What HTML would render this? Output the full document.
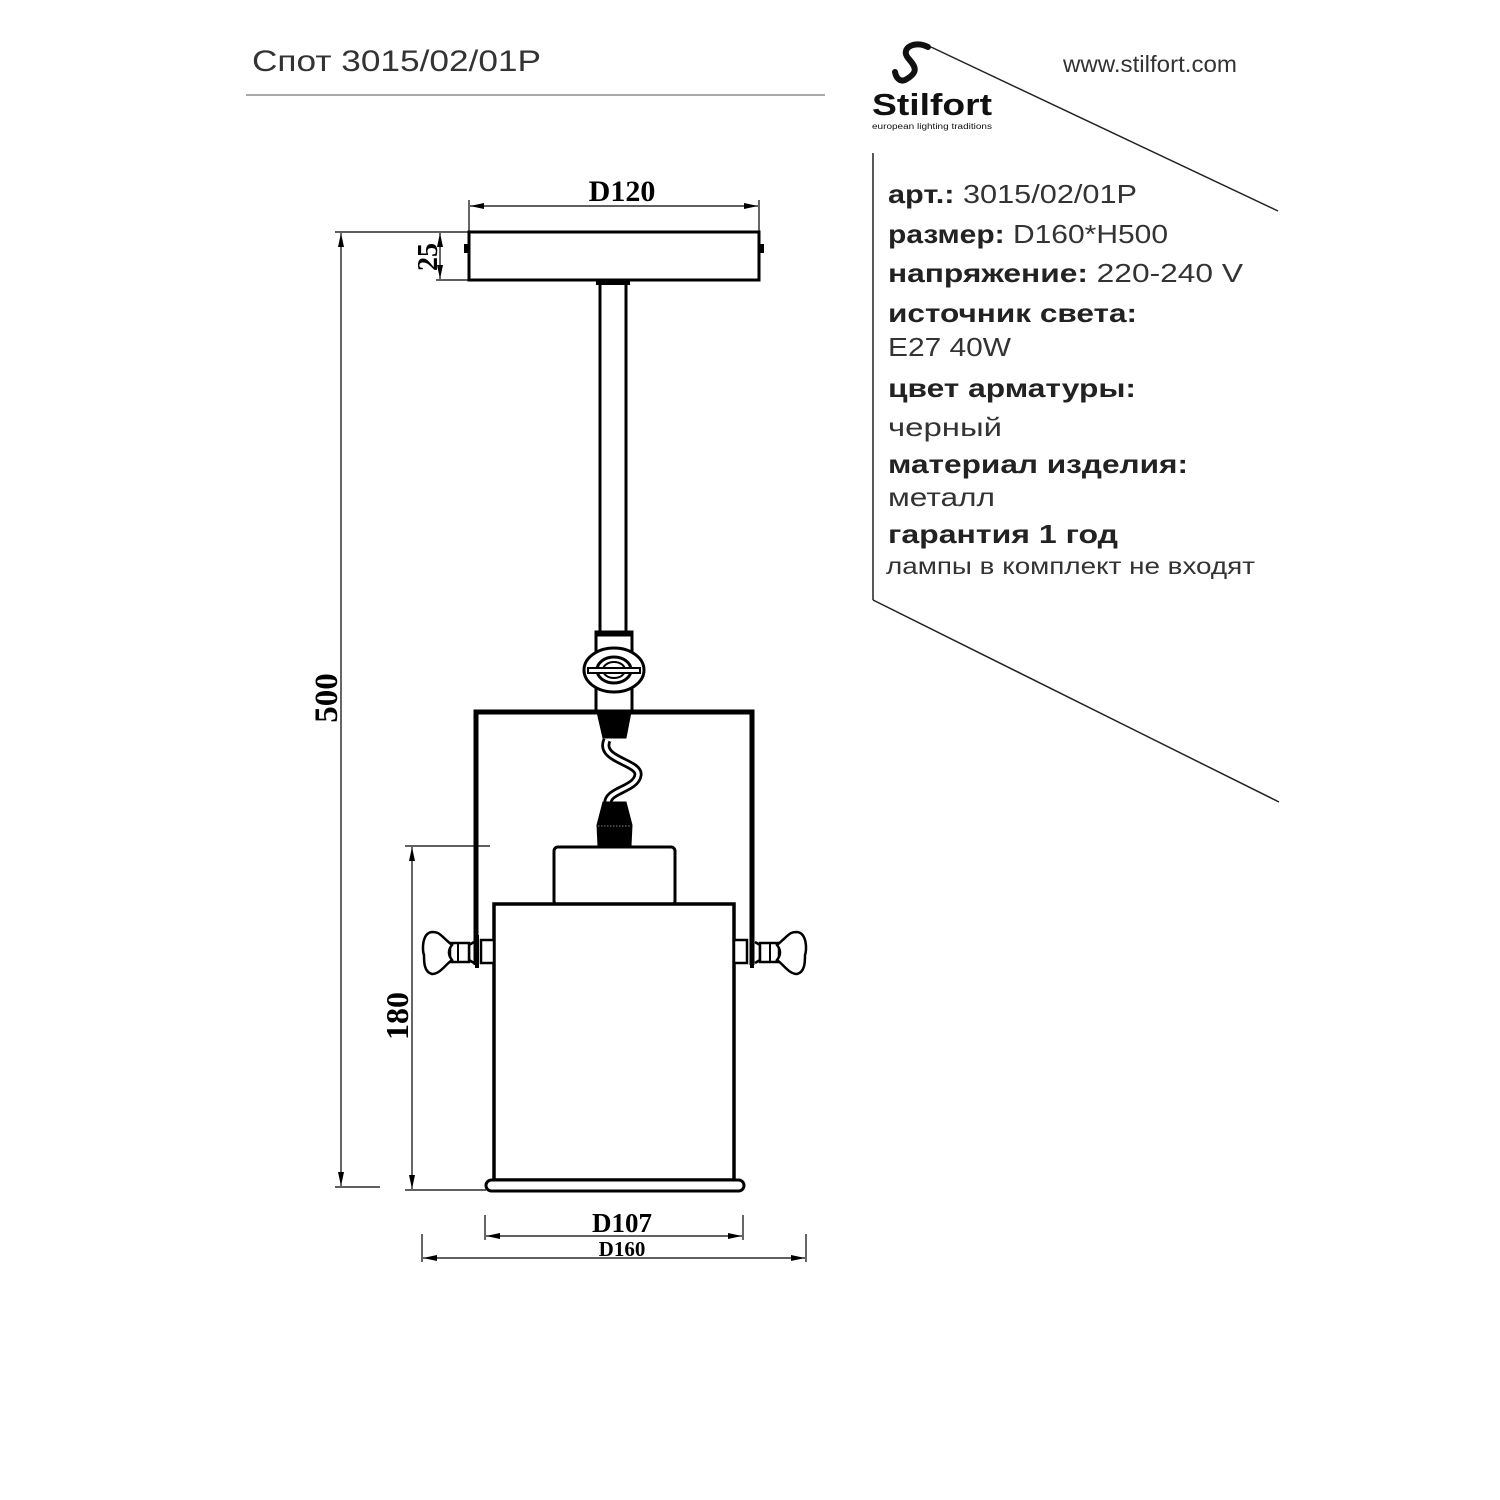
<!DOCTYPE html>
<html><head><meta charset="utf-8"><style>
html,body{margin:0;padding:0;background:#fff;width:1500px;height:1500px;overflow:hidden}
svg{display:block}
.s{font-family:"Liberation Serif",serif;font-weight:bold}
.t{font-family:"Liberation Sans","DejaVu Sans",sans-serif}
</style></head><body>
<svg width="1500" height="1500" viewBox="0 0 1500 1500" xmlns="http://www.w3.org/2000/svg">
<defs>
<marker id="a" markerWidth="14" markerHeight="6" refX="14" refY="3" orient="auto-start-reverse" markerUnits="userSpaceOnUse"><path d="M0,0 L14,3 L0,6 Z" fill="#000"/></marker>
</defs>
<!-- header -->
<text x="252" y="71" class="t" font-size="30" fill="#333" textLength="289" lengthAdjust="spacingAndGlyphs">Спот 3015/02/01P</text>
<line x1="246" y1="95" x2="825" y2="95" stroke="#777" stroke-width="1.2"/>
<path d="M928,47 C915,40 900,48 908,58 C915,66 920,72 905,80 C900,82 896,78 895,72" fill="none" stroke="#111" stroke-width="6" stroke-linecap="round"/>
<text x="872" y="115" class="t" font-size="31" font-weight="bold" fill="#111" textLength="120" lengthAdjust="spacingAndGlyphs">Stilfort</text>
<text x="872" y="129" class="t" font-size="8" fill="#111" textLength="120" lengthAdjust="spacingAndGlyphs">european lighting traditions</text>
<text x="1063" y="72" class="t" font-size="23" fill="#333" textLength="174" lengthAdjust="spacingAndGlyphs">www.stilfort.com</text>
<line x1="931" y1="47" x2="1278" y2="211" stroke="#222" stroke-width="1.5"/>
<line x1="873" y1="153" x2="873" y2="600" stroke="#222" stroke-width="1.5"/>
<line x1="873" y1="600" x2="1279" y2="802" stroke="#222" stroke-width="1.5"/>
<!-- specs -->
<g class="t" font-size="26" fill="#333">
<text x="888" y="203" textLength="249" lengthAdjust="spacingAndGlyphs"><tspan font-weight="900" fill="#222">арт.:</tspan> 3015/02/01P</text>
<text x="888" y="243" textLength="280" lengthAdjust="spacingAndGlyphs"><tspan font-weight="900" fill="#222">размер:</tspan> D160*H500</text>
<text x="888" y="282" textLength="355" lengthAdjust="spacingAndGlyphs"><tspan font-weight="900" fill="#222">напряжение:</tspan> 220-240 V</text>
<text x="888" y="322" font-weight="900" fill="#222" textLength="249" lengthAdjust="spacingAndGlyphs">источник света:</text>
<text x="888" y="356" textLength="123" lengthAdjust="spacingAndGlyphs">E27 40W</text>
<text x="888" y="397" font-weight="900" fill="#222" textLength="248" lengthAdjust="spacingAndGlyphs">цвет арматуры:</text>
<text x="888" y="436" textLength="114" lengthAdjust="spacingAndGlyphs">черный</text>
<text x="888" y="473" font-weight="900" fill="#222" textLength="300" lengthAdjust="spacingAndGlyphs">материал изделия:</text>
<text x="888" y="506" textLength="107" lengthAdjust="spacingAndGlyphs">металл</text>
<text x="888" y="543" font-weight="900" fill="#222" textLength="230" lengthAdjust="spacingAndGlyphs">гарантия 1 год</text>
<text x="886" y="574" font-size="23" textLength="369" lengthAdjust="spacingAndGlyphs">лампы в комплект не входят</text>
</g>
<!-- drawing -->
<g stroke="#000" fill="none">
<rect x="469" y="232" width="290" height="48" stroke-width="3" fill="#fff"/>
<rect x="464" y="244" width="5" height="9" fill="#000" stroke-width="0"/>
<rect x="759" y="244" width="5" height="9" fill="#000" stroke-width="0"/>
<rect x="600" y="282" width="26" height="350" stroke-width="3"/>
<rect x="596" y="280" width="34" height="5" fill="#000" stroke-width="0"/>
<rect x="596" y="632" width="36" height="80" stroke-width="3" fill="#fff"/>
<line x1="597" y1="635" x2="631" y2="635" stroke-width="3"/>
<ellipse cx="614" cy="670" rx="30" ry="22" stroke-width="3" fill="#fff"/>
<ellipse cx="614" cy="670" rx="17" ry="13" stroke-width="3"/>
<ellipse cx="614" cy="670" rx="11" ry="8" stroke-width="2"/>
<rect x="588" y="668" width="52" height="5" stroke-width="2" fill="#fff"/>
<path d="M476,965 L476,712 L752,712 L752,965" stroke-width="5"/>
<path d="M597,712 L631,712 L626,738 L603,738 Z" fill="#000" stroke-width="1"/>
<path d="M607,740 C598,760 640,762 638,775 C636,790 605,790 608,805" stroke-width="9"/>
<path d="M607,740 C598,760 640,762 638,775 C636,790 605,790 608,805" stroke="#fff" stroke-width="3.5"/>
<path d="M603,802 L626,802 L632,825 L631,846 L598,846 L597,825 Z" fill="#000" stroke-width="1"/>
<line x1="598" y1="826" x2="631" y2="826" stroke="#888" stroke-width="1" stroke-dasharray="1.5 1.5"/>
<rect x="554" y="847" width="121" height="58" rx="4" stroke-width="3" fill="#fff"/>
<rect x="494" y="904" width="240" height="276" stroke-width="3.5" fill="#fff"/>
<rect x="486" y="1180" width="258" height="11" rx="5.5" stroke-width="3" fill="#fff"/>
<rect x="481" y="940" width="13" height="23" stroke-width="2.5" fill="#fff"/>
<line x1="477" y1="935" x2="477" y2="968" stroke-width="4"/>
<path d="M474,942 L469,945 L469,960 L474,963" stroke-width="2.5"/>
<rect x="450" y="943" width="19" height="19" stroke-width="2.5" fill="#fff"/>
<line x1="458" y1="943" x2="458" y2="962" stroke-width="2"/>
<path d="M452,945 C440,935 440,932 432,932 C422,933 422,950 424,955 C424,962 424,972 432,974 C440,974 445,965 452,960 C448,955 448,950 452,945 Z" stroke-width="2.5" fill="#fff"/>
<rect x="734" y="940" width="13" height="23" stroke-width="2.5" fill="#fff"/>
<line x1="752" y1="935" x2="752" y2="968" stroke-width="4"/>
<path d="M755,942 L760,945 L760,960 L755,963" stroke-width="2.5"/>
<rect x="760" y="943" width="19" height="19" stroke-width="2.5" fill="#fff"/>
<line x1="770" y1="943" x2="770" y2="962" stroke-width="2"/>
<path d="M777,945 C789,935 789,932 797,932 C807,933 807,950 805,955 C805,962 805,972 797,974 C789,974 784,965 777,960 C781,955 781,950 777,945 Z" stroke-width="2.5" fill="#fff"/>
<g stroke-width="1.2">
<line x1="469" y1="200" x2="469" y2="232"/><line x1="759" y1="200" x2="759" y2="232"/>
<line x1="470" y1="206" x2="758" y2="206" marker-start="url(#a)" marker-end="url(#a)"/>
<line x1="335" y1="232" x2="469" y2="232"/>
<line x1="436" y1="280" x2="469" y2="280"/>
<line x1="440" y1="233" x2="440" y2="279" marker-start="url(#a)" marker-end="url(#a)"/>
<line x1="335" y1="1187" x2="380" y2="1187"/>
<line x1="341" y1="233" x2="341" y2="1186" marker-start="url(#a)" marker-end="url(#a)"/>
<line x1="405" y1="846" x2="490" y2="846"/>
<line x1="405" y1="1190" x2="486" y2="1190"/>
<line x1="412" y1="847" x2="412" y2="1189" marker-start="url(#a)" marker-end="url(#a)"/>
<line x1="485" y1="1215" x2="485" y2="1240"/><line x1="743" y1="1215" x2="743" y2="1240"/>
<line x1="486" y1="1236" x2="742" y2="1236" marker-start="url(#a)" marker-end="url(#a)"/>
<line x1="422" y1="1234" x2="422" y2="1262"/><line x1="806" y1="1234" x2="806" y2="1262"/>
<line x1="423" y1="1258" x2="805" y2="1258" marker-start="url(#a)" marker-end="url(#a)"/>
</g>
</g>
<g class="s" fill="#000" text-anchor="middle">
<text x="622" y="201" font-size="30">D120</text>
<text x="622" y="1232" font-size="27">D107</text>
<text x="622" y="1256" font-size="21">D160</text>
<text transform="translate(437,257) rotate(-90)" font-size="28">25</text>
<text transform="translate(337,698) rotate(-90)" font-size="33">500</text>
<text transform="translate(408,1016) rotate(-90)" font-size="32">180</text>
</g>
</svg>
</body></html>
